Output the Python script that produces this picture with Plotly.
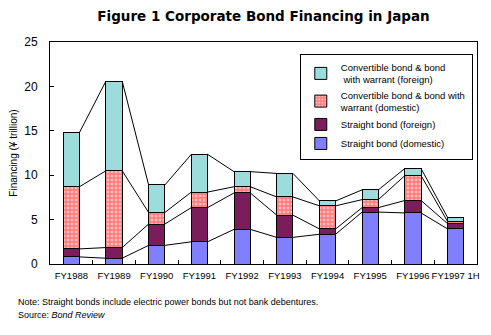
import plotly.graph_objects as go

categories = ["FY1988", "FY1989", "FY1990", "FY1991", "FY1992", "FY1993",
              "FY1994", "FY1995", "FY1996", "FY1997 1H"]
straight_domestic = [0.8, 0.65, 2.1, 2.5, 3.9, 3.0, 3.35, 5.85, 5.75, 3.95]
straight_foreign = [0.9, 1.2, 2.4, 3.85, 4.1, 2.5, 0.6, 0.5, 1.4, 0.6]
convertible_domestic = [7.0, 8.65, 1.3, 1.75, 0.7, 2.05, 2.6, 0.9, 2.8, 0.25]
convertible_foreign = [6.1, 10.1, 3.1, 4.25, 1.7, 2.65, 0.55, 1.1, 0.8, 0.45]
series_names = ["Straight bond (domestic)", "Straight bond (foreign)",
                "Convertible bond & bond with<br>warrant (domestic)",
                "Convertible bond & bond<br> with warrant (foreign)"]
y_ticks = [0, 5, 10, 15, 20, 25]

xs = list(range(len(categories)))
BW = 0.38
FONT = "Liberation Sans, Arial, sans-serif"

fig = go.Figure()

series = [straight_domestic, straight_foreign, convertible_domestic, convertible_foreign]
colors = ["#8080FF", "#7B1C5C", "#FF8080", "#9CDCDC"]
for k, (vals, name, col) in enumerate(zip(series, series_names, colors)):
    marker = dict(color=col, line=dict(color="black", width=1))
    if k == 2:
        marker["pattern"] = dict(shape=".", fgcolor="white", bgcolor=col,
                                 size=4, solidity=0.35, fillmode="overlay")
    fig.add_trace(go.Bar(x=xs, y=vals, name=name, width=BW, marker=marker))

# series lines connecting the tops of each stacked segment
cum = [0.0] * len(xs)
for vals in series:
    cum = [c + v for c, v in zip(cum, vals)]
    lx, ly = [], []
    for i in range(len(xs) - 1):
        lx += [xs[i] + BW / 2, xs[i + 1] - BW / 2, None]
        ly += [cum[i], cum[i + 1], None]
    fig.add_trace(go.Scatter(x=lx, y=ly, mode="lines", showlegend=False,
                             line=dict(color="black", width=1), hoverinfo="skip"))

fig.update_layout(
    barmode="stack",
    width=491, height=335,
    margin=dict(l=50, r=11, t=42, b=71),
    paper_bgcolor="white", plot_bgcolor="white",
    font=dict(family=FONT, color="black"),
    title=dict(text="<b>Figure 1 Corporate Bond Financing in Japan</b>",
               x=0.5, xref="paper", xanchor="center", y=0.952, yanchor="middle",
               font=dict(family="DejaVu Sans, sans-serif", size=13.5, color="black")),
    legend=dict(x=0.585, y=0.948, xanchor="left", yanchor="top",
                traceorder="reversed", bordercolor="black", borderwidth=1,
                bgcolor="white", font=dict(size=9.5, family=FONT),
                tracegroupgap=0, itemwidth=30),
    showlegend=True,
)

fig.update_xaxes(range=[-0.5, len(xs) - 0.5], tickmode="array", tickvals=xs,
                 ticktext=categories, ticks="", showline=True, linecolor="black",
                 linewidth=1, mirror=True, showgrid=False, zeroline=False,
                 tickangle=0,
                 tickfont=dict(size=9.5, family=FONT), ticklabelstandoff=3,
                 minor=dict(tickmode="array", tickvals=[x + 0.5 for x in xs[:-1]],
                            ticks="inside", ticklen=4, tickcolor="black", showgrid=False))
fig.update_yaxes(range=[0, 25], tickmode="array", tickvals=y_ticks,
                 ticks="inside", ticklen=4, tickcolor="black", showline=True,
                 linecolor="black", linewidth=1, mirror=True, showgrid=False,
                 zeroline=False, tickfont=dict(size=12, family=FONT),
                 ticklabelstandoff=9,
                 title=dict(text="Financing (¥ trillion)", font=dict(size=10, family=FONT),
                            standoff=4))

fig.add_annotation(text="Note: Straight bonds include electric power bonds but not bank debentures.",
                   x=(16 - 50) / 430, xref="paper", xanchor="left", y=0, yref="paper",
                   yanchor="middle", yshift=-(302.7 - 264.3), showarrow=False,
                   font=dict(size=9, family=FONT))
fig.add_annotation(text="Source: <i>Bond Review</i>",
                   x=(16 - 50) / 430, xref="paper", xanchor="left", y=0, yref="paper",
                   yanchor="middle", yshift=-(315 - 264.3), showarrow=False,
                   font=dict(size=9, family=FONT))

fig.write_html("out.html")
